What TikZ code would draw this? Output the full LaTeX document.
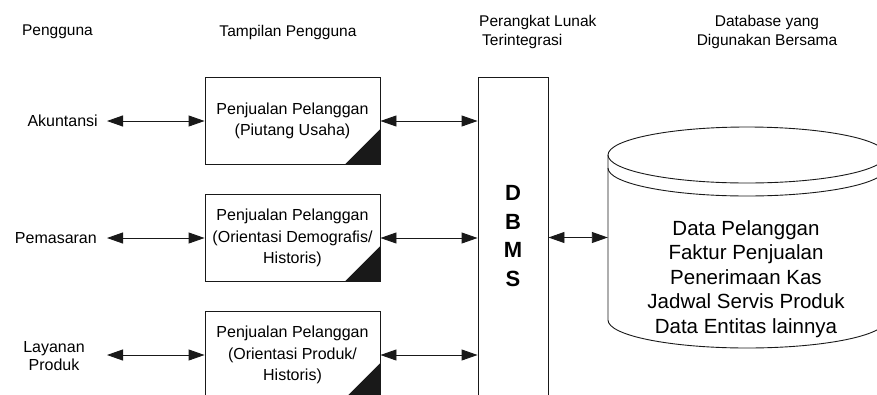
\documentclass[tikz,border=0pt]{standalone}
\usepackage{fontspec}
\setmainfont{Liberation Sans}
\usetikzlibrary{arrows.meta}
\begin{document}
\begin{tikzpicture}[x=1pt,y=-1pt,
  ink/.style={draw=black!90, line width=0.9pt},
  both/.style={ink, {Triangle[length=16pt,width=11pt]}-{Triangle[length=16pt,width=11pt]}},
  viewbox/.style={ink, minimum width=175pt, minimum height=87pt, inner sep=0pt,
    align=center, font=\fontsize{16}{21.5}\selectfont},
  head/.style={font=\fontsize{15.5}{19}\selectfont, inner sep=0pt},
  user/.style={font=\fontsize{16}{18.5}\selectfont, inner sep=0pt},
  corner/.style={fill=black!90}
]
\useasboundingbox (0,0) rectangle (877,394);
\clip (0,0) rectangle (877,394);

% column headings
\node[head] (hUser) at (57.5,32) {Pengguna};
\node[head] (hView) at (288,32) {Tampilan Pengguna};
\node[head, align=left, anchor=west] (hSoft) at (479,32) {Perangkat Lunak\\\hspace*{3pt}Terintegrasi};
\node[head, align=center] (hData) at (767,32) {Database yang\\Digunakan Bersama};

% user groups
\node[user, anchor=east] (uAcc) at (98,121) {Akuntansi};
\node[user, anchor=east] (uMkt) at (97,238) {Pemasaran};
\node[user, align=center] (uSvc) at (54,356) {Layanan\\Produk};
\coordinate (t1) at (107,121);
\coordinate (t2) at (107,238);
\coordinate (t3) at (107,355);

% user views
\node[viewbox] (v1) at (292.5,121) {Penjualan Pelanggan\\(Piutang Usaha)};
\node[viewbox] (v2) at (292.5,238) {Penjualan Pelanggan\\(Orientasi Demografis/\\Historis)};
\node[viewbox] (v3) at (292.5,355) {Penjualan Pelanggan\\(Orientasi Produk/\\Historis)};
\foreach \v in {v1,v2,v3}{
  \fill[corner] (\v.south east) -- ++(-36,0) -- ++(36,-36) -- cycle;
}

% integrated software
\node[ink, minimum width=70pt, minimum height=340pt, inner sep=0pt, anchor=north] (dbms) at (513,77) {};
\node[font=\fontsize{22}{28.5}\selectfont\bfseries, align=center, inner sep=0pt] (dbmsT) at (513,236) {D\\B\\M\\S};

% shared database cylinder
\draw[ink] (608,155) -- (608,320)
  arc[start angle=180, end angle=360, x radius=139pt, y radius=28pt] -- (886,155);
\draw[ink] (747,155) ellipse[x radius=139pt, y radius=28pt];
\draw[ink] (608,168) arc[start angle=180, end angle=360, x radius=139pt, y radius=28pt];
\node[inner sep=0pt, minimum width=278pt, minimum height=165pt] (db) at (747,237.5) {};
\node[font=\fontsize{20.5}{24.5}\selectfont, align=center, inner sep=0pt] (dbText) at (746,279)
  {Data Pelanggan\\Faktur Penjualan\\Penerimaan Kas\\Jadwal Servis Produk\\Data Entitas lainnya};

% connectors
\draw[both] (t1) -- (v1.west);
\draw[both] (t2) -- (v2.west);
\draw[both] (t3) -- (v3.west);
\draw[both] (v1.east) -- (v1.east -| dbms.west);
\draw[both] (v2.east) -- (v2.east -| dbms.west);
\draw[both] (v3.east) -- (v3.east -| dbms.west);
\draw[both] (db.west -| dbms.east) -- (db.west);
\end{tikzpicture}
\end{document}
